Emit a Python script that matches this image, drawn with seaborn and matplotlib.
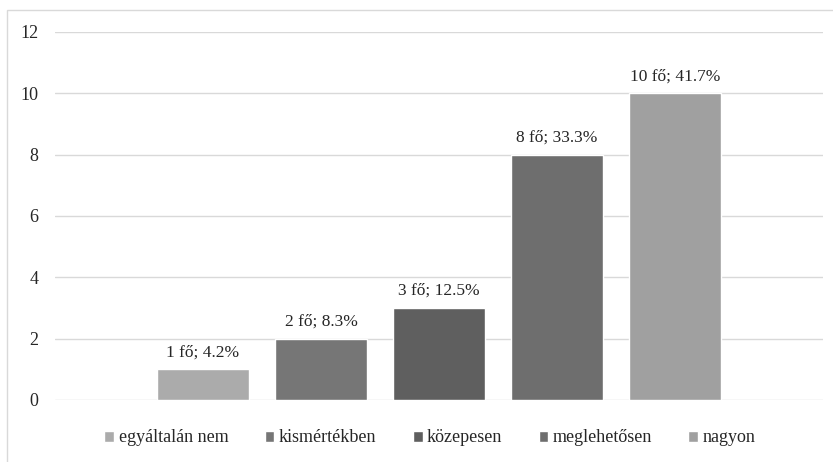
import matplotlib
matplotlib.use("Agg")
import matplotlib.pyplot as plt
import seaborn as sns
import pandas as pd
from matplotlib.patches import Rectangle

categories = ["egyáltalán nem", "kismértékben", "közepesen", "meglehetősen", "nagyon"]
counts = [1, 2, 3, 8, 10]
percents = [4.2, 8.3, 12.5, 33.3, 41.7]
colors = ["#ABABAB", "#767676", "#5F5F5F", "#6E6E6E", "#A0A0A0"]

sns.set_theme(style="white")
plt.rcParams["font.family"] = ["Liberation Serif", "DejaVu Serif"]

df = pd.DataFrame({"cat": categories, "n": counts})

fig = plt.figure(figsize=(8.33, 4.62), dpi=100)
ax = fig.add_axes([55/833, 1-400/462, (823-55)/833, (400-32)/462])

sns.barplot(data=df, x="cat", y="n", hue="cat", palette=colors, order=categories,
            hue_order=categories, width=0.78, dodge=False, legend=True, ax=ax,
            saturation=1)

ax.set_xlim(-1.254, 5.254)
ax.set_ylim(0, 12)
ax.set_yticks([0, 2, 4, 6, 8, 10, 12])
ax.yaxis.grid(True, color="#D9D9D9", linewidth=1)
ax.set_axisbelow(True)
ax.set_xticks([])
ax.set_xlabel("")
ax.set_ylabel("")
for s in ax.spines.values():
    s.set_visible(False)
ax.tick_params(axis="y", length=0, pad=12, labelsize=13, labelcolor="#262626")

for i, (c, p) in enumerate(zip(counts, percents)):
    ax.text(i, c + 0.3, f"{c} fő; {p}%", ha="center", va="bottom",
            fontsize=12.5, color="#262626")

handles, labels = ax.get_legend_handles_labels()
ax.legend(handles, labels, loc="center", bbox_to_anchor=(430/833, 1-438/462),
          bbox_transform=fig.transFigure, ncol=5, frameon=False, fontsize=13,
          handlelength=0.55, handleheight=0.55, handletextpad=0.25, columnspacing=2.0,
          labelcolor="#262626")

fig.patches.append(Rectangle((7/833, -0.1), 1.2, 1-10/462+0.1, transform=fig.transFigure,
                             fill=False, edgecolor="#D9D9D9", linewidth=1))

fig.savefig("out.png", dpi=100)
